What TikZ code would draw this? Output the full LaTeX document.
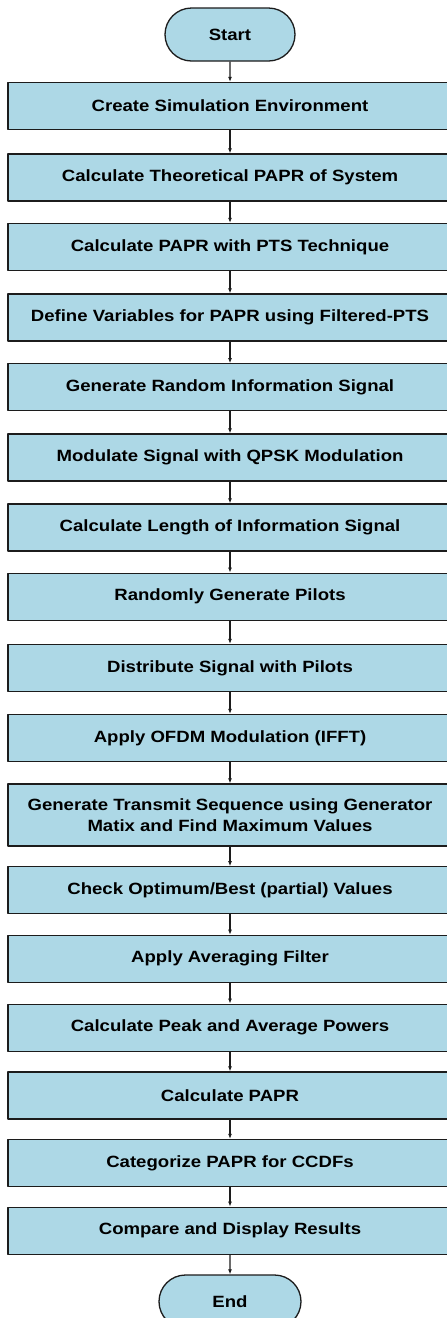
\documentclass[tikz,border=0pt]{standalone}
\usepackage{fontspec}
\setmainfont{Liberation Sans}[FakeStretch=1.14]
\usepackage{tikz}
\usetikzlibrary{arrows.meta,shapes.misc}
\definecolor{fcFill}{HTML}{ADD8E6}
\definecolor{fcInk}{HTML}{1C1C1C}
\tikzset{
  fc diagram/.style={x=1pt, y=-1pt, font=\bfseries\fontsize{16.3}{20.7}\selectfont,
    text=black, line join=round},
  fc step/.style={draw=fcInk, fill=fcFill, line width=1.3pt, minimum width=444pt,
    minimum height=47pt, align=center, inner sep=0pt},
  fc tall step/.style={fc step, minimum height=62pt},
  fc term/.style={draw=fcInk, fill=fcFill, line width=1.3pt, rounded rectangle,
    minimum width=130pt, minimum height=53pt, inner sep=0pt},
  fc arrow/.style={-{Latex[length=5pt,width=4pt]}, draw=fcInk, line width=1.2pt}
}
\begin{document}
\begin{tikzpicture}[fc diagram]
\useasboundingbox (0,0) rectangle (447,1318);
\node[fc term] (start) at (230,34.5) {Start};
\node[fc step] (env) at (230,106) {Create Simulation Environment};
\node[fc step] (theory) at (230,177.5) {Calculate Theoretical PAPR of System};
\node[fc step] (pts) at (230,247) {Calculate PAPR with PTS Technique};
\node[fc step] (vars) at (230,317.5) {Define Variables for PAPR using Filtered-PTS};
\node[fc step] (info) at (230,387.3) {Generate Random Information Signal};
\node[fc step] (qpsk) at (230,457.5) {Modulate Signal with QPSK Modulation};
\node[fc step] (len) at (230,527.5) {Calculate Length of Information Signal};
\node[fc step] (pilots) at (230,596.7) {Randomly Generate Pilots};
\node[fc step] (dist) at (230,668) {Distribute Signal with Pilots};
\node[fc step] (ofdm) at (230,738) {Apply OFDM Modulation (IFFT)};
\node[fc tall step] (seq) at (230,815) {Generate Transmit Sequence using Generator\\Matix and Find Maximum Values};
\node[fc step] (best) at (230,890.3) {Check Optimum/Best (partial) Values};
\node[fc step] (avg) at (230,958.8) {Apply Averaging Filter};
\node[fc step] (powers) at (230,1027.7) {Calculate Peak and Average Powers};
\node[fc step] (papr) at (230,1095.5) {Calculate PAPR};
\node[fc step] (ccdf) at (230,1163) {Categorize PAPR for CCDFs};
\node[fc step] (show) at (230,1230.7) {Compare and Display Results};
\node[fc term, minimum width=142pt] (end) at (230,1301.5) {End};
\draw[fc arrow] (start) -- (env);
\draw[fc arrow] (env) -- (theory);
\draw[fc arrow] (theory) -- (pts);
\draw[fc arrow] (pts) -- (vars);
\draw[fc arrow] (vars) -- (info);
\draw[fc arrow] (info) -- (qpsk);
\draw[fc arrow] (qpsk) -- (len);
\draw[fc arrow] (len) -- (pilots);
\draw[fc arrow] (pilots) -- (dist);
\draw[fc arrow] (dist) -- (ofdm);
\draw[fc arrow] (ofdm) -- (seq);
\draw[fc arrow] (seq) -- (best);
\draw[fc arrow] (best) -- (avg);
\draw[fc arrow] (avg) -- (powers);
\draw[fc arrow] (powers) -- (papr);
\draw[fc arrow] (papr) -- (ccdf);
\draw[fc arrow] (ccdf) -- (show);
\draw[fc arrow] (show) -- (end);
\end{tikzpicture}
\end{document}
